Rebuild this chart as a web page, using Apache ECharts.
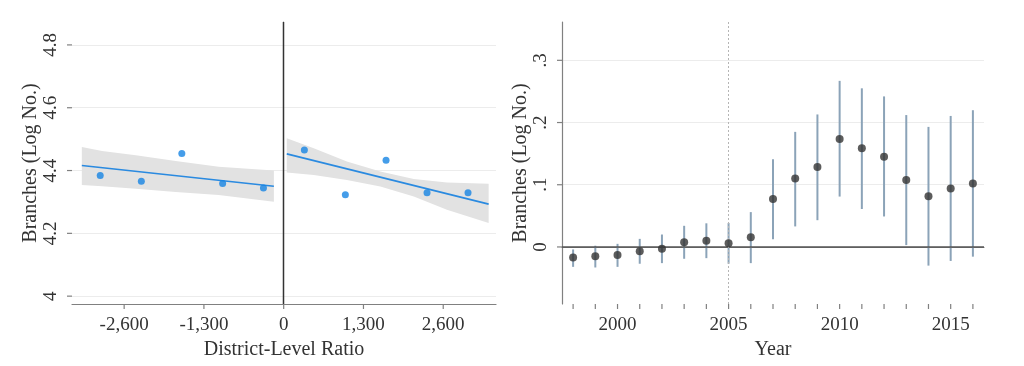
<!DOCTYPE html>
<html><head><meta charset="utf-8">
<script src="https://cdn.jsdelivr.net/npm/echarts@6/dist/echarts.min.js"></script>
<style>html,body{margin:0;padding:0;background:#fff}#c{width:1024px;height:366px}</style>
</head><body><div id="c"></div>
<script>
// ---- Left panel data ----
const leftTicksX = [-2600, -1300, 0, 1300, 2600];
const leftTicksY = [4, 4.2, 4.4, 4.6, 4.8];
const binXLeft = [-2990, -2320, -1660, -995, -330];
const binYLeft = [4.384, 4.366, 4.454, 4.359, 4.344];
const binXRight = [337, 1005, 1668, 2336, 3004];
const binYRight = [4.465, 4.323, 4.433, 4.329, 4.329];
const fitXLeft = [-3290, -160];
const fitYLeft = [4.416, 4.350];
const fitXRight = [50, 3340];
const fitYRight = [4.453, 4.293];
const bandXLeft = [-3290, -2960, -2410, -1760, -1060, -160];
const bandTopLeft = [4.475, 4.462, 4.449, 4.430, 4.412, 4.400];
const bandBotLeft = [4.354, 4.350, 4.342, 4.332, 4.322, 4.301];
const bandXRight = [50, 490, 1030, 1575, 2120, 2660, 3340];
const bandTopRight = [4.503, 4.471, 4.429, 4.397, 4.373, 4.362, 4.358];
const bandBotRight = [4.394, 4.386, 4.370, 4.349, 4.317, 4.275, 4.233];

// ---- Right panel data ----
const years = [1998,1999,2000,2001,2002,2003,2004,2005,2006,2007,2008,2009,2010,2011,2012,2013,2014,2015,2016];
const coef = [-0.017,-0.015,-0.013,-0.007,-0.003,0.0075,0.010,0.006,0.0156,0.077,0.110,0.1286,0.1736,0.1586,0.145,0.1077,0.0815,0.094,0.102];
const ciHi = [-0.004,0.002,0.005,0.013,0.020,0.034,0.038,0.0386,0.056,0.141,0.185,0.213,0.267,0.255,0.242,0.212,0.193,0.2106,0.2198];
const ciLo = [-0.032,-0.033,-0.032,-0.027,-0.026,-0.019,-0.018,-0.027,-0.026,0.0124,0.033,0.043,0.081,0.061,0.049,0.003,-0.030,-0.0225,-0.0156];
const rightTicksY = [0, 0.1, 0.2, 0.3];
const rightLabelsX = [2000, 2005, 2010, 2015];
const treatYear = 2005;

const FONT = 'Liberation Serif';
const TXT = '#333';
const AX = '#808080';

function fmtComma(v){
  const s = Math.abs(v).toString().replace(/\B(?=(\d{3})+(?!\d))/g, ',');
  return (v < 0 ? '-' : '') + s;
}
function fmtDot(v){
  if (Math.abs(v) < 1e-9) return '0';
  return (+v.toFixed(1)).toString().replace(/^0\./, '.').replace(/^-0\./, '-.');
}

function bandSeries(xs, tops, bots){
  return {
    type: 'custom', xAxisIndex: 0, yAxisIndex: 0, silent: true, z: 1,
    data: [[xs[0], tops[0]]],
    renderItem: function(params, api){
      const pts = [];
      for (let i = 0; i < xs.length; i++) pts.push(api.coord([xs[i], tops[i]]));
      for (let i = xs.length - 1; i >= 0; i--) pts.push(api.coord([xs[i], bots[i]]));
      return { type: 'polygon', shape: { points: pts }, style: { fill: '#e2e2e2' } };
    }
  };
}

// tick marks drawn through the axes' own scales
function tickSeries(xi, yi, values, dir){
  return {
    type: 'custom', xAxisIndex: xi, yAxisIndex: yi, silent: true, z: 6, clip: false,
    data: values.map(v => [v]),
    renderItem: function(params, api){
      const v = api.value(0);
      const cs = params.coordSys;
      let x1, y1, x2, y2;
      if (dir === 'x') {
        const p = api.coord([v, 0]);
        x1 = x2 = p[0]; y1 = cs.y + cs.height; y2 = y1 + 5;
      } else {
        const p = api.coord([0, v]);
        y1 = y2 = p[1]; x1 = cs.x; x2 = x1 - 5;
      }
      return { type: 'line', shape: { x1, y1, x2, y2 }, style: { stroke: AX, lineWidth: 1.2 } };
    }
  };
}

const chart = echarts.init(document.getElementById('c'), null, {renderer: 'canvas'});
const nameStyle = { fontFamily: FONT, fontSize: 20, color: TXT };
const labStyle = { fontFamily: FONT, fontSize: 19, color: TXT };
const option = {
  animation: false,
  backgroundColor: '#fff',
  grid: [
    { left: 72, right: 528, top: 22, bottom: 62 },
    { left: 562, right: 40, top: 22, bottom: 62 }
  ],
  xAxis: [
    {
      gridIndex: 0, type: 'value', min: -3450, max: 3460,
      name: 'District-Level Ratio', nameLocation: 'middle', nameGap: 33, nameTextStyle: nameStyle,
      axisLine: { show: true, lineStyle: { color: AX, width: 1.2 } },
      axisTick: { show: false },
      axisLabel: Object.assign({ customValues: leftTicksX, formatter: fmtComma, margin: 12 }, labStyle),
      splitLine: { show: false }
    },
    {
      gridIndex: 1, type: 'value', min: 1997.5, max: 2016.5,
      name: 'Year', nameLocation: 'middle', nameGap: 33, nameTextStyle: nameStyle,
      axisLine: { show: true, lineStyle: { color: AX, width: 1.2 } },
      axisTick: { show: false },
      axisLabel: Object.assign({ customValues: rightLabelsX, formatter: v => String(v), margin: 12 }, labStyle),
      splitLine: { show: false }
    }
  ],
  yAxis: [
    {
      gridIndex: 0, type: 'value', min: 3.975, max: 4.873,
      name: 'Branches (Log No.)', nameLocation: 'middle', nameGap: 30, nameTextStyle: nameStyle,
      axisLine: { show: true, lineStyle: { color: AX, width: 1.2 } },
      axisTick: { show: false, customValues: leftTicksY },
      axisLabel: Object.assign({ customValues: leftTicksY, rotate: 90, formatter: v => (+v.toFixed(1)).toString(), margin: 11 }, labStyle),
      splitLine: { show: true, lineStyle: { color: '#ececec', width: 1 } }
    },
    {
      gridIndex: 1, type: 'value', min: -0.0917, max: 0.3616,
      name: 'Branches (Log No.)', nameLocation: 'middle', nameGap: 30, nameTextStyle: nameStyle,
      axisLine: { show: true, lineStyle: { color: AX, width: 1.2 } },
      axisTick: { show: false, customValues: rightTicksY },
      axisLabel: Object.assign({ customValues: rightTicksY, rotate: 90, formatter: fmtDot, margin: 11 }, labStyle),
      splitLine: { show: true, lineStyle: { color: '#ececec', width: 1 } }
    }
  ],
  series: [
    bandSeries(bandXLeft, bandTopLeft, bandBotLeft),
    bandSeries(bandXRight, bandTopRight, bandBotRight),
    {
      type: 'line', xAxisIndex: 0, yAxisIndex: 0, silent: true, z: 3,
      data: fitXLeft.map((x, i) => [x, fitYLeft[i]]),
      showSymbol: false, lineStyle: { color: '#2a8ae0', width: 1.6 },
      markLine: {
        silent: true, symbol: 'none', label: { show: false },
        lineStyle: { color: '#333', width: 1.4, type: 'solid' },
        data: [{ xAxis: 0 }]
      }
    },
    {
      type: 'line', xAxisIndex: 0, yAxisIndex: 0, silent: true, z: 3,
      data: fitXRight.map((x, i) => [x, fitYRight[i]]),
      showSymbol: false, lineStyle: { color: '#2a8ae0', width: 1.6 }
    },
    {
      type: 'scatter', xAxisIndex: 0, yAxisIndex: 0, silent: true, z: 4,
      data: binXLeft.map((x, i) => [x, binYLeft[i]]).concat(binXRight.map((x, i) => [x, binYRight[i]])),
      symbolSize: 7, itemStyle: { color: '#1684e4' }
    },
    {
      type: 'custom', xAxisIndex: 1, yAxisIndex: 1, silent: true, z: 3,
      data: years.map((y, i) => [y, ciLo[i], ciHi[i]]),
      encode: { x: 0, y: [1, 2] },
      renderItem: function(params, api){
        const a = api.coord([api.value(0), api.value(1)]);
        const b = api.coord([api.value(0), api.value(2)]);
        return { type: 'line', shape: { x1: a[0], y1: a[1], x2: b[0], y2: b[1] }, style: { stroke: '#8ba3b8', lineWidth: 2 } };
      },
      markLine: {
        silent: true, symbol: 'none', label: { show: false },
        data: [
          { yAxis: 0, lineStyle: { color: '#555', width: 1.6, type: 'solid' } },
          { xAxis: treatYear, lineStyle: { color: '#b5b5b5', width: 1, type: [2, 2] } }
        ]
      }
    },
    {
      type: 'scatter', xAxisIndex: 1, yAxisIndex: 1, silent: true, z: 5,
      data: years.map((y, i) => [y, coef[i]]),
      symbolSize: 8, itemStyle: { color: '#333' }
    },
    tickSeries(0, 0, leftTicksX, 'x'),
    tickSeries(0, 0, leftTicksY, 'y'),
    tickSeries(1, 1, years, 'x'),
    tickSeries(1, 1, rightTicksY, 'y')
  ]
};
chart.setOption(option);
</script>
</body></html>
